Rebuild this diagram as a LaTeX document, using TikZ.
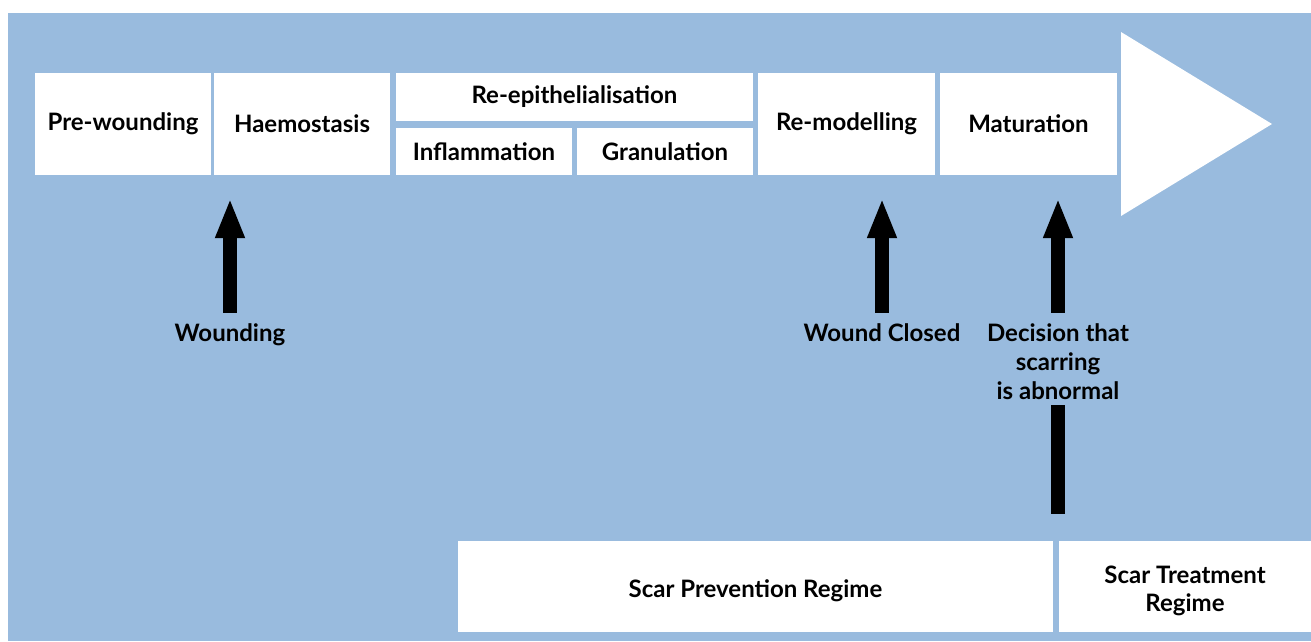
\documentclass[tikz,border=0pt]{standalone}
\usepackage{fontspec}
\setmainfont{Lato}
\usetikzlibrary{arrows.meta}
\definecolor{stageblue}{RGB}{153,187,222}
\tikzset{
	stage/.style={fill=white, text=black, inner sep=0pt, align=center, font=\bfseries\fontsize{24}{29}\selectfont},
	eventlabel/.style={inner sep=0pt, align=center, font=\bfseries\fontsize{24}{29}\selectfont},
	bigarrow/.style={line width=13.5pt, -{Triangle[width=27pt, length=40pt]}},
	bar/.style={line width=13.5pt},
}

\begin{document}
\begin{tikzpicture}[x=1pt, y=-1pt]
		%%%%% START %%%%%
		
		\useasboundingbox (0, 0) rectangle (1311, 641);
		\fill[stageblue] (8, 13) rectangle (1311, 641);
		
		% stages of healing
		\node[stage, minimum width=176pt, minimum height=102pt] (prewound) at (123, 124) {Pre-wounding};
		\node[stage, minimum width=176pt, minimum height=102pt] (haemo) at (302, 124) {Haemostasis};
		\node[stage, minimum width=357pt, minimum height=48pt] (reepi) at (574.5, 97) {Re-epithelialisation};
		\node[stage, minimum width=176pt, minimum height=47pt] (inflam) at (484, 151.5) {Inflammation};
		\node[stage, minimum width=176pt, minimum height=47pt] (granul) at (665, 151.5) {Granulation};
		\node[stage, minimum width=177pt, minimum height=102pt] (remodel) at (846.5, 124) {Re-modelling};
		\node[stage, minimum width=177pt, minimum height=102pt] (matur) at (1028.5, 124) {Maturation};
		\fill[white] (1121, 32) -- (1272, 124) -- (1121, 216) -- cycle;
		
		% events
		\node[eventlabel] (wounding) at (230, 335) {Wounding};
		\node[eventlabel] (closed) at (882, 333) {Wound Closed};
		\node[eventlabel] (decision) at (1058, 362) {Decision that\\scarring\\is abnormal};
		
		\draw[bigarrow, shorten <=11pt, shorten >=23pt] (wounding.north) -- (wounding.north |- haemo.south);
		\draw[bigarrow, shorten <=11pt, shorten >=23pt] (closed.north) -- (closed.north |- remodel.south);
		\draw[bigarrow, shorten <=11pt, shorten >=23pt] (decision.north) -- (decision.north |- matur.south);
		
		% regimes
		\node[stage, minimum width=595pt, minimum height=91pt, text height=21pt, text depth=0pt] (prevent) at (755.5, 586.5) {Scar Prevention Regime};
		\node[stage, minimum width=252pt, minimum height=91pt, text height=49pt, text depth=0pt, font=\bfseries\fontsize{24}{28}\selectfont] (treat) at (1185, 586.5) {Scar Treatment\\Regime};
		
		\draw[bar, shorten <=5pt, shorten >=27pt] (decision.south) -- (decision.south |- treat.north);
		
		%%%%% END %%%%%
	\end{tikzpicture}
\end{document}
